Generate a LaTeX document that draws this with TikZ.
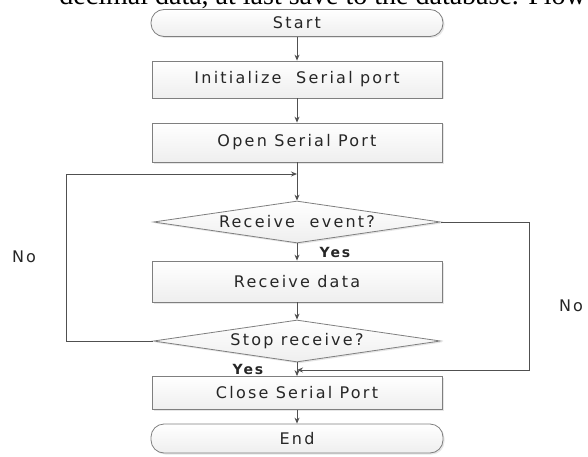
\documentclass[tikz,border=0pt]{standalone}
\usepackage{fontspec}
\setmainfont{Liberation Serif}
\newfontfamily\chartfont[LetterSpace=14]{DejaVu Sans}
\usetikzlibrary{shapes.geometric,arrows.meta,shadows}

\definecolor{edgegray}{HTML}{7F7F7F}
\definecolor{flowgray}{HTML}{505050}
\definecolor{textgray}{HTML}{262626}

\tikzset{
  box/.style={draw=edgegray, line width=0.8pt, top color=white, bottom color=gray!13,
    drop shadow={shadow xshift=1.5pt, shadow yshift=-1.5pt, opacity=0.2, fill=gray},
    inner sep=0pt, text=textgray, font=\chartfont\fontsize{16}{16}\selectfont},
  procbox/.style={box, rectangle, minimum width=290pt},
  termbox/.style={box, rectangle, rounded corners=13pt, minimum width=292pt},
  choice/.style={box, diamond, aspect=6.8, inner xsep=-70pt, minimum height=42pt},
  answer/.style={text=textgray, font=\chartfont\fontsize{16}{16}\selectfont},
  flow/.style={draw=flowgray, line width=0.9pt, -{Stealth[length=6pt,width=5pt]}}
}

\begin{document}
\begin{tikzpicture}[x=1pt, y=-1pt]
  \useasboundingbox (0,0) rectangle (588,457);
  \clip (0,0) rectangle (588,457);
  % cut-off line of page text above the chart
  \node[anchor=base east, inner sep=0pt, font=\fontsize{28}{28}\selectfont] (pagetext) at (586,4.5) {decimal data, at last save to the database. Flow};
  % chart blocks
  \node[termbox, minimum height=27pt] (start) at (297,23) {Start};
  \node[procbox, minimum height=37pt] (init) at (297,79.5) {Initialize~ Serial port};
  \node[procbox, minimum height=39pt] (open) at (297,142.5) {Open Serial Port};
  \node[choice, minimum width=287pt] (event) at (297,222) {Receive~ event?};
  \node[procbox, minimum height=41pt] (data) at (297,281.5) {Receive data};
  \node[choice, minimum width=287pt] (stop) at (297,341) {Stop receive?};
  \node[procbox, minimum height=33pt] (close) at (297,393) {Close Serial Port};
  \node[termbox, minimum height=29pt] (end) at (297,438.5) {End};
  % joints where the loops come back in
  \coordinate (backin) at (297,174);
  \coordinate (backout) at (297,370);
  % main flow
  \foreach \a/\b in {start/init, init/open, open/event, event/data, data/stop, stop/close, close/end}
    \draw[flow] (\a) -- (\b);
  % loops
  \draw[flow] (stop.west) -- ++(-86.5,0) |- (backin);
  \draw[flow] (event.east) -- ++(88.5,0) |- (backout);
  % answers
  \node[answer, font=\chartfont\bfseries\fontsize{14}{14}\selectfont] (yesevent) at (335,252) {Yes};
  \node[answer, font=\chartfont\bfseries\fontsize{14}{14}\selectfont] (yesstop) at (248,369) {Yes};
  \node[answer] (nostop) at (24,257) {No};
  \node[answer] (noevent) at (571,306) {No};
\end{tikzpicture}
\end{document}
